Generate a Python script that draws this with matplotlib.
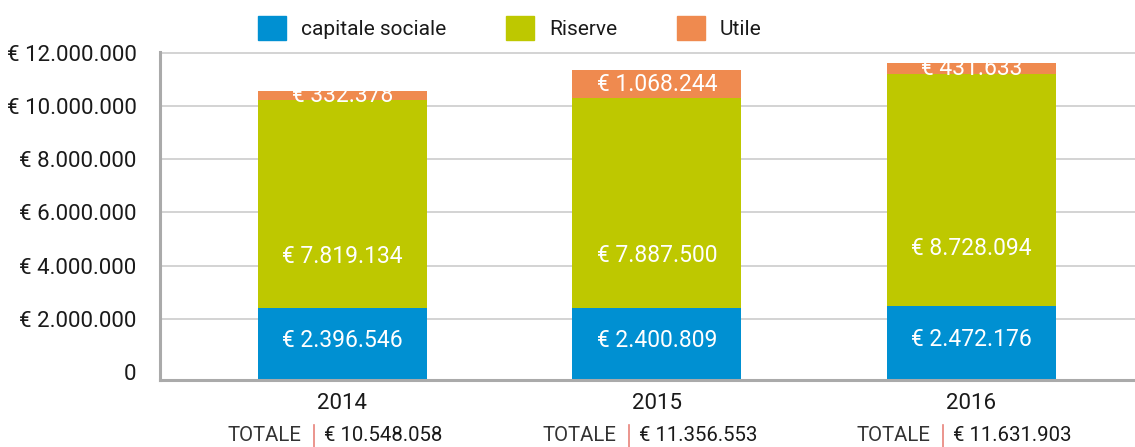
"""
Patrimonio netto 2014-2016: capitale sociale, riserve e utile (barre impilate).
"""

import numpy as np
import matplotlib.pyplot as plt
import matplotlib.transforms as mtransforms
from matplotlib.patches import Patch

plt.rcParams['font.family'] = ['Roboto', 'DejaVu Sans']

# Data
YEARS = ['2014', '2015', '2016']
CAPITALE = [2396546, 2400809, 2472176]
RISERVE = [7819134, 7887500, 8728094]
UTILE = [332378, 1068244, 431633]
Y_TICKS = [0, 2000000, 4000000, 6000000, 8000000, 10000000, 12000000]

# Colors
BLUE = '#0090d2'
GREEN = '#bec800'
ORANGE = '#ef8a4f'
SEP_COLOR = '#e8837a'
AXIS_GREY = '#aaaaaa'
GRID_GREY = '#cccccc'
TEXT = '#1a1a1a'

# the bars start a bit below zero, down on the axis line
Y_BOTTOM = -300000
Y_TOP = 12050000


def euro(v):
    return '€ ' + f'{v:,}'.replace(',', '.')


def plot_patrimonio():
    cap = np.array(CAPITALE)
    ris = np.array(RISERVE)
    ut = np.array(UTILE)
    tot = cap + ris + ut
    x = np.arange(len(YEARS))
    width = 0.537

    fig = plt.figure(figsize=(11.35, 4.47), dpi=100)
    ax = fig.add_axes([160 / 1135, 1 - 380 / 447, 1 - 160 / 1135, 328.5 / 447])

    ax.bar(x, cap - Y_BOTTOM, width, bottom=Y_BOTTOM, color=BLUE, zorder=3)
    ax.bar(x, ris, width, bottom=cap, color=GREEN, zorder=3)
    ax.bar(x, ut, width, bottom=cap + ris, color=ORANGE, zorder=3)

    # labels inside the bars
    kw = dict(ha='center', va='center', color='white', fontsize=16.5, zorder=4)
    for i in range(len(YEARS)):
        ax.text(x[i], cap[i] / 2, euro(int(cap[i])), **kw)
        ax.text(x[i], cap[i] + ris[i] * 0.25, euro(int(ris[i])), **kw)
        ax.text(x[i], cap[i] + ris[i] + ut[i] / 2, euro(int(ut[i])), **kw)

    ax.set_xlim(-0.58, 2.52)
    ax.set_ylim(Y_BOTTOM, Y_TOP)
    ax.set_yticks(Y_TICKS)
    ax.set_yticklabels(['0'] + [euro(v) for v in Y_TICKS[1:]])
    ax.tick_params(axis='y', length=0, pad=17, labelsize=16, labelcolor=TEXT)
    ax.set_xticks([])
    # gridlines only above zero
    for v in Y_TICKS[1:]:
        ax.axhline(v, color=GRID_GREY, linewidth=1.2, zorder=0)

    for side in ['top', 'right']:
        ax.spines[side].set_visible(False)
    for side in ['left', 'bottom']:
        ax.spines[side].set_color(AXIS_GREY)
        ax.spines[side].set_linewidth(2.2)
        ax.spines[side].set_zorder(5)

    # year and total under each bar
    trans = mtransforms.blended_transform_factory(ax.transData, ax.transAxes)
    sep = -0.09
    for i in range(len(YEARS)):
        ax.text(x[i], -0.073, YEARS[i], transform=trans, ha='center', va='center',
                fontsize=16, color=TEXT)
        ax.text(x[i] + sep - 0.04, -0.17, 'TOTALE', transform=trans, ha='right',
                va='center', fontsize=14.7, color='#333333')
        ax.text(x[i] + sep + 0.032, -0.17, euro(int(tot[i])), transform=trans,
                ha='left', va='center', fontsize=14.7, color=TEXT)
        ax.plot([x[i] + sep, x[i] + sep], [-0.137, -0.204], transform=trans,
                color=SEP_COLOR, linewidth=1.2, clip_on=False)

    handles = [Patch(color=BLUE, label='capitale sociale'),
               Patch(color=GREEN, label='Riserve'),
               Patch(color=ORANGE, label='Utile')]
    fig.legend(handles=handles, loc='center', bbox_to_anchor=(510 / 1135, 1 - 28 / 447),
               ncol=3, frameon=False, fontsize=15, handlelength=1.35, handleheight=1.35,
               handletextpad=0.72, columnspacing=2.85, labelcolor=TEXT)

    fig.savefig('out.png', dpi=100)


if __name__ == '__main__':
    plot_patrimonio()
